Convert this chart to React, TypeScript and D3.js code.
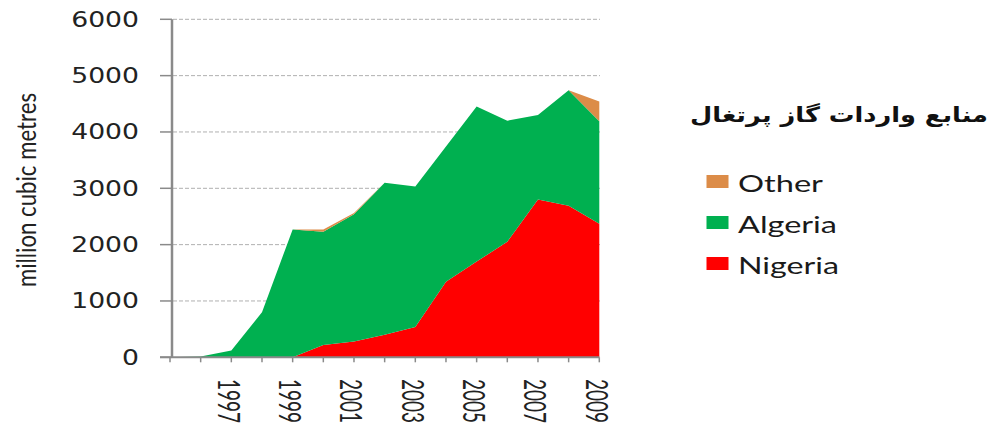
import React from "react";
import * as d3 from "d3";

const years = [1995, 1996, 1997, 1998, 1999, 2000, 2001, 2002, 2003, 2004, 2005, 2006, 2007, 2008, 2009];
const nigeria = [0, 0, 0, 0, 0, 220, 280, 400, 540, 1340, 1700, 2050, 2800, 2690, 2370];
const algeria = [0, 15, 120, 800, 2270, 2010, 2260, 2700, 2490, 2400, 2750, 2150, 1500, 2050, 1820];
const other = [0, 0, 0, 0, 0, 40, 20, 0, 0, 0, 0, 0, 0, 0, 350];
const yTicks = [0, 1000, 2000, 3000, 4000, 5000, 6000];
const xLabelYears = [1997, 1999, 2001, 2003, 2005, 2007, 2009];
const seriesKeys = ["Nigeria", "Algeria", "Other"];
const legendOrder = ["Other", "Algeria", "Nigeria"];
const colors: Record<string, string> = { Nigeria: "#FF0000", Algeria: "#00B050", Other: "#DC8C48" };
const legendWidths: Record<string, number> = { Other: 85, Algeria: 99, Nigeria: 101 };
const title = "منابع واردات گاز پرتغال";
const yTitle = "million cubic metres";

export default function App() {
  const SX = 1.3;
  const x = d3.scalePoint<number>().domain(years).range([170, 599.3]);
  const y = d3.scaleLinear().domain([0, 6000]).range([357.3, 19.3]);
  const rows = years.map((yr, i) => ({ year: yr, Nigeria: nigeria[i], Algeria: algeria[i], Other: other[i] }));
  const stacked = d3.stack<any>().keys(seriesKeys)(rows);
  const area = d3
    .area<any>()
    .x((d) => x(d.data.year) as number)
    .y0((d) => y(d[0]))
    .y1((d) => y(d[1]));
  const x1 = x(years[years.length - 1]) as number;

  return (
    <svg width={994} height={430} style={{ position: "absolute", left: 0, top: 0, background: "#fff" }}>
      <rect width={994} height={430} fill="#fff" />
      {yTicks.filter((t) => t > 0).map((t) => (
        <line key={"g" + t} x1={173} x2={600} y1={y(t)} y2={y(t)} stroke="#b0b0b0" strokeWidth={1} strokeDasharray="4 2" />
      ))}
      {stacked.map((s) => (
        <path key={s.key} d={area(s) || ""} fill={colors[s.key]} />
      ))}
      <line x1={172} x2={172} y1={y(6000)} y2={y(0)} stroke="#8a8a8a" strokeWidth={2.5} />
      {yTicks.map((t) => (
        <line key={"yt" + t} x1={160} x2={172} y1={y(t)} y2={y(t)} stroke="#8a8a8a" strokeWidth={1.5} />
      ))}
      {yTicks.map((t) => (
        <text
          key={"yl" + t}
          transform={`translate(139,${y(t) + 7.5}) scale(${SX},1)`}
          textAnchor="end"
          fontFamily="DejaVu Sans, Verdana, sans-serif"
          fontSize={20.5}
          fill="#222"
        >
          {t}
        </text>
      ))}
      <line x1={160} x2={x1} y1={y(0)} y2={y(0)} stroke="#8a8a8a" strokeWidth={2} />
      {years.map((yr) => (
        <line key={"xt" + yr} x1={x(yr)} x2={x(yr)} y1={y(0)} y2={y(0) + 5} stroke="#8a8a8a" strokeWidth={1.5} />
      ))}
      {xLabelYears.map((yr) => (
        <text
          key={"xl" + yr}
          transform={`translate(${(x(yr) as number) - 3},379) scale(1.45,1) rotate(90)`}
          dy="0.35em"
          textAnchor="start"
          fontFamily="Lato, Carlito, sans-serif"
          fontSize={21}
          fill="#222"
          textLength={44}
          lengthAdjust="spacingAndGlyphs"
        >
          {yr}
        </text>
      ))}
      <text
        transform={`translate(36,190) scale(${SX},1) rotate(-90)`}
        textAnchor="middle"
        fontFamily="Lato, Carlito, sans-serif"
        fontSize={21}
        fill="#222"
        textLength={194}
        lengthAdjust="spacingAndGlyphs"
      >
        {yTitle}
      </text>
      <text
        x={690}
        y={122}
        fontFamily="DejaVu Sans, sans-serif"
        fontWeight="bold"
        fontSize={21}
        fill="#111"
        textLength={298}
        lengthAdjust="spacingAndGlyphs"
      >
        {title}
      </text>
      {legendOrder.map((k, i) => {
        const cy = 181.5 + i * 41;
        return (
          <g key={"lg" + k}>
            <rect x={706.5} y={cy - 6.5} width={22} height={13} fill={colors[k]} />
            <text
              x={738}
              y={cy + 10}
              fontFamily="Lato, Carlito, sans-serif"
              fontSize={23}
              fill="#1a1a1a"
              textLength={legendWidths[k]}
              lengthAdjust="spacingAndGlyphs"
            >
              {k}
            </text>
          </g>
        );
      })}
    </svg>
  );
}
